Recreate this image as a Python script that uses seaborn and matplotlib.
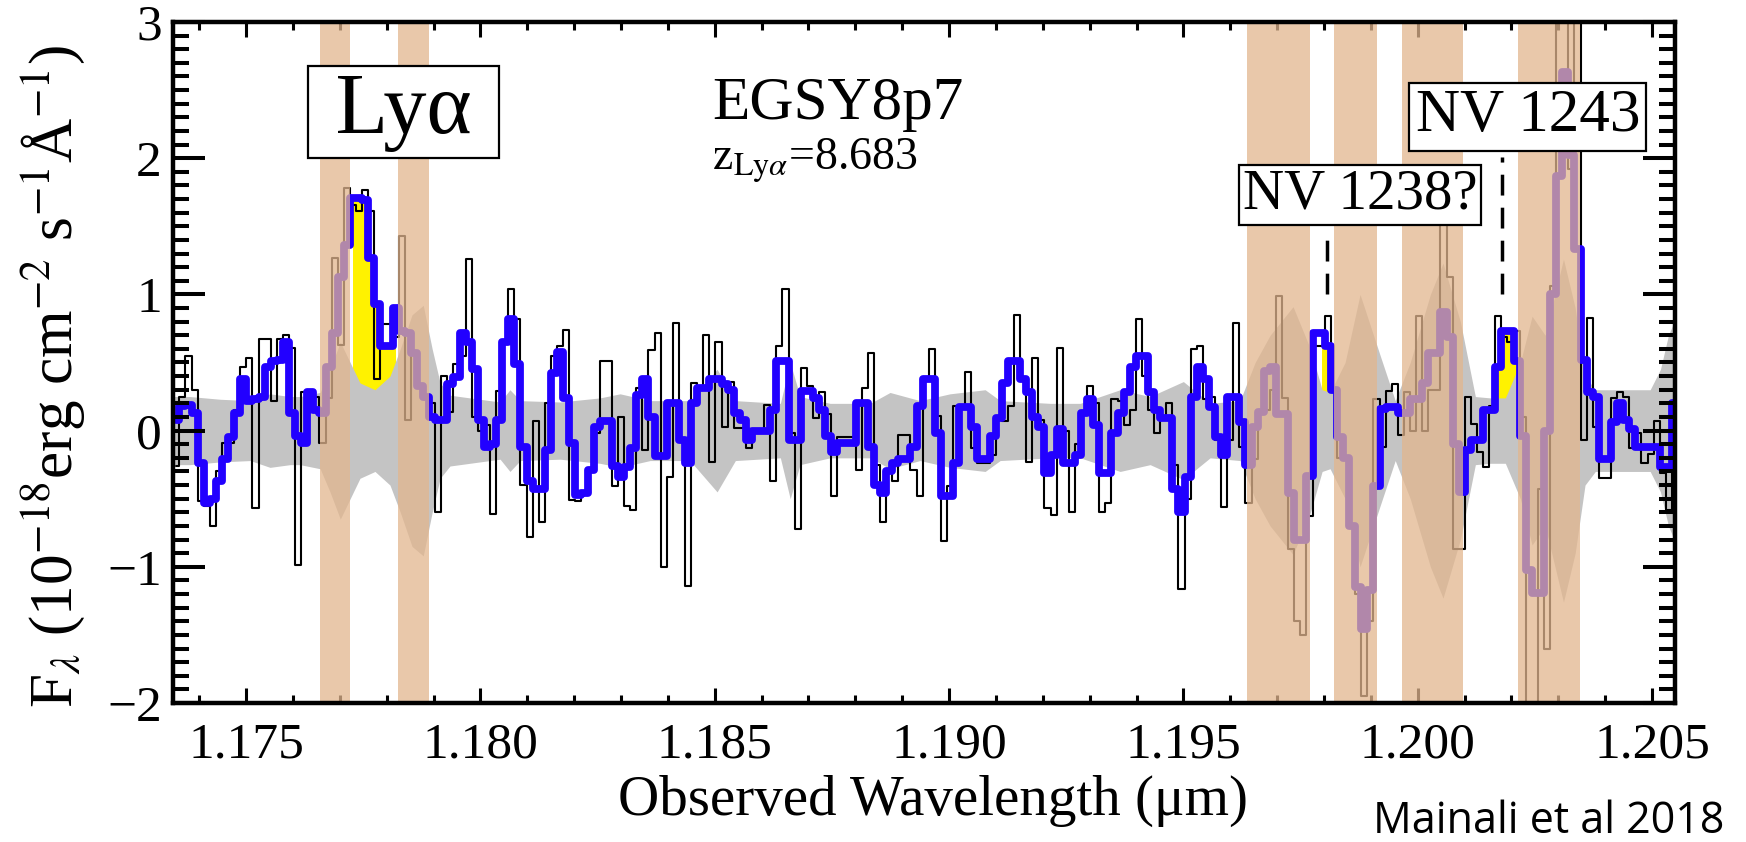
import numpy as np
import pandas as pd
import matplotlib
matplotlib.use("Agg")
import matplotlib.pyplot as plt
import seaborn as sns
from matplotlib.ticker import MultipleLocator, FormatStrFormatter, FuncFormatter

# ---------------- data ----------------
wave_start = 1.17351      # first pixel centre (micron)
wave_step = 0.00013       # MOSFIRE pixel width (micron)

flux_smooth = [
    0.08, 0.18, 0.19, 0.13, -0.24, -0.53, -0.50, -0.37, -0.21, -0.05,
    0.13, 0.38, 0.22, 0.23, 0.25, 0.47, 0.51, 0.52, 0.65, 0.13,
    -0.04, -0.09, 0.28, 0.15, 0.13, 0.47, 0.72, 1.13, 1.36, 1.71,
    1.71, 1.69, 1.27, 0.93, 0.62, 0.62, 0.90, 0.73, 0.72, 0.57,
    0.33, 0.25, 0.10, 0.08, 0.08, 0.34, 0.39, 0.72, 0.65, 0.45,
    0.08, -0.12, -0.10, 0.08, 0.65, 0.82, 0.49, -0.12, -0.37, -0.43,
    -0.43, -0.14, 0.42, 0.58, 0.24, -0.09, -0.47, -0.46, -0.29, 0.03,
    0.07, 0.07, -0.26, -0.34, -0.27, -0.13, 0.26, 0.38, 0.10, -0.19,
    -0.19, 0.20, 0.20, -0.07, -0.24, 0.20, 0.31, 0.31, 0.38, 0.38,
    0.34, 0.30, 0.13, 0.08, -0.07, 0.00, 0.00, 0.00, 0.15, 0.51,
    0.51, -0.07, -0.07, 0.29, 0.29, 0.24, 0.15, -0.04, -0.16, -0.09,
    -0.09, -0.09, 0.20, 0.20, -0.12, -0.40, -0.46, -0.30, -0.24, -0.21,
    -0.21, -0.12, 0.18, 0.38, 0.38, -0.02, -0.48, -0.48, -0.24, 0.17,
    0.17, 0.03, -0.21, -0.21, -0.04, 0.09, 0.35, 0.51, 0.51, 0.38,
    0.28, 0.10, 0.03, -0.31, -0.18, 0.01, -0.24, -0.24, -0.18, 0.13,
    0.23, 0.04, -0.31, -0.31, -0.02, 0.13, 0.28, 0.47, 0.55, 0.55,
    0.28, 0.15, 0.09, 0.09, -0.43, -0.60, -0.34, 0.25, 0.47, 0.38,
    0.17, -0.05, -0.18, 0.25, 0.25, 0.06, -0.25, 0.03, 0.14, 0.44,
    0.47, 0.12, 0.12, -0.46, -0.80, -0.80, -0.33, 0.72, 0.72, 0.62,
    0.30, -0.05, -0.20, -0.70, -1.15, -1.46, -1.17, -0.41, 0.16, 0.17,
    0.17, 0.13, 0.13, 0.23, 0.23, 0.35, 0.57, 0.57, 0.87, 0.69,
    -0.10, -0.45, -0.14, -0.07, -0.07, 0.15, 0.15, 0.47, 0.73, 0.73,
    0.51, -0.04, -1.02, -1.19, -1.19, 0.00, 1.00, 1.87, 2.63, 2.02,
    1.33, 0.52, 0.28, 0.25, -0.21, -0.21, 0.06, 0.20, 0.08, 0.01,
    -0.12, -0.12, -0.12, -0.12, -0.27, -0.27, 0.20,
]

flux_raw = [
    -0.26, 0.25, 0.55, 0.30, -0.52, -0.55, -0.70, -0.30, -0.09, -0.09,
    0.15, 0.47, 0.53, -0.57, 0.67, 0.67, 0.22, 0.67, 0.70, 0.61,
    -0.99, 0.28, 0.25, 0.25, -0.09, 0.24, 1.27, 0.63, 1.78, 1.66,
    1.61, 1.77, 1.61, 0.38, 0.78, 0.78, 0.69, 1.43, 0.08, 0.57,
    0.33, 0.23, 0.20, -0.60, 0.40, 0.14, 0.49, 0.55, 1.26, 0.10,
    0.00, 0.04, -0.61, 0.29, 0.66, 1.04, 0.82, -0.40, -0.78, 0.07,
    -0.67, 0.20, 0.55, 0.62, 0.74, -0.51, -0.52, -0.45, -0.30, -0.02,
    0.51, 0.51, -0.41, 0.10, -0.55, -0.58, 0.31, -0.14, 0.59, 0.72,
    -1.00, -0.34, 0.79, -0.07, -1.14, 0.35, 0.30, 0.70, -0.23, 0.65,
    0.03, 0.36, 0.02, 0.02, -0.13, -0.02, -0.02, 0.19, -0.37, 0.62,
    1.04, -0.02, -0.72, 0.46, 0.33, 0.09, 0.28, 0.12, -0.48, -0.05,
    -0.05, -0.05, -0.29, 0.31, 0.57, -0.25, -0.67, -0.30, -0.37, -0.03,
    -0.03, -0.29, -0.48, 0.39, 0.60, 0.11, -0.81, -0.41, 0.18, 0.18,
    0.43, -0.13, -0.24, -0.24, -0.18, 0.09, 0.07, 0.18, 0.85, 0.38,
    -0.23, 0.53, 0.08, -0.57, -0.62, 0.61, 0.00, -0.60, -0.10, 0.12,
    0.33, 0.20, -0.60, -0.53, 0.23, 0.22, 0.04, 0.15, 0.82, 0.40,
    0.15, -0.02, 0.11, 0.20, -0.25, -1.16, -0.50, 0.60, 0.62, 0.23,
    0.25, -0.07, -0.56, -0.07, 0.79, -0.12, -0.53, -0.21, 0.15, 0.15,
    0.30, 0.99, 0.24, -0.87, -1.40, -1.50, -0.63, 0.62, 0.62, 0.84,
    0.28, -0.20, -0.20, -0.70, -1.20, -1.95, -1.40, 0.23, -0.12, 0.29,
    0.34, -0.03, 0.28, 0.00, 0.84, 0.00, 0.30, 0.30, 1.53, 1.13,
    -0.87, -0.87, 0.25, 0.05, -0.16, -0.27, 0.18, 0.84, 0.69, 0.65,
    0.73, 0.10, -2.30, -2.30, -0.43, -1.60, 1.06, 3.20, 3.20, 1.92,
    3.10, -0.07, 0.83, 0.03, -0.35, -0.35, 0.24, 0.28, 0.25, -0.13,
    -0.02, -0.24, -0.17, 0.07, -0.31, -0.58, 0.20,
]

sigma_wave = [
    1.17344, 1.17380, 1.17445, 1.17509, 1.17551, 1.17594, 1.17615, 1.17658,
    1.17679, 1.17701, 1.17722, 1.17743, 1.17775, 1.17807, 1.17829, 1.17854,
    1.17878, 1.17897, 1.17914, 1.17935, 1.17999, 1.18042, 1.18063, 1.18085,
    1.18170, 1.18255, 1.18298, 1.18362, 1.18447, 1.18505, 1.18544, 1.18640,
    1.18661, 1.18682, 1.18746, 1.18832, 1.18874, 1.18938, 1.19002, 1.19077,
    1.19109, 1.19216, 1.19280, 1.19365, 1.19429, 1.19500, 1.19557, 1.19621,
    1.19653, 1.19685, 1.19734, 1.19771, 1.19796, 1.19813, 1.19845, 1.19877,
    1.19920, 1.19952, 1.19984, 1.20027, 1.20054, 1.20091, 1.20123, 1.20155,
    1.20187, 1.20219, 1.20244, 1.20272, 1.20311, 1.20336, 1.20357, 1.20379,
    1.20496, 1.20518, 1.20535, 1.20552,
]
sigma_flux = [
    0.25, 0.25, 0.23, 0.22, 0.27, 0.25, 0.25, 0.28,
    0.45, 0.65, 0.50, 0.35, 0.30, 0.40, 0.60, 0.85,
    0.92, 0.60, 0.35, 0.26, 0.23, 0.21, 0.30, 0.22,
    0.21, 0.24, 0.27, 0.22, 0.22, 0.45, 0.22, 0.20,
    0.50, 0.25, 0.20, 0.20, 0.28, 0.22, 0.27, 0.30,
    0.22, 0.20, 0.20, 0.30, 0.25, 0.36, 0.20, 0.22,
    0.50, 0.70, 0.91, 0.60, 0.30, 0.28, 0.50, 1.00,
    0.55, 0.22, 0.50, 1.00, 1.23, 0.80, 0.25, 0.24,
    0.24, 0.50, 0.84, 0.70, 1.26, 0.90, 0.40, 0.30,
    0.30, 0.45, 0.70, 0.84,
]

sky_lo = [1.17658, 1.17824, 1.19636, 1.197015, 1.19822, 1.19967, 1.200315, 1.20214, 1.202785]
sky_hi = [1.17722, 1.17891, 1.19701, 1.19771, 1.19914, 1.20031, 1.20097, 1.20278, 1.20347]

line_windows = [(1.17722, 1.17824), (1.19790, 1.19812), (1.20165, 1.20215)]

line_labels = ["NV 1238?", "NV 1243"]
line_wave = [1.19807, 1.20180]
line_tick_bottom = [1.00, 1.00]
line_tick_top = [1.46, 2.01]

# ---------------- style ----------------
sns.set_theme(style="ticks")
plt.rcParams["font.family"] = ["Liberation Serif", "DejaVu Serif"]
plt.rcParams["mathtext.fontset"] = "stix"
plt.rcParams["axes.unicode_minus"] = True
for key in ["text.color", "axes.labelcolor", "xtick.color", "ytick.color",
            "axes.edgecolor"]:
    plt.rcParams[key] = "black"

wave = wave_start + wave_step * np.arange(len(flux_smooth))
smooth = np.asarray(flux_smooth)
df = pd.DataFrame({"wave": wave, "smooth": flux_smooth, "raw": flux_raw})

fig = plt.figure(figsize=(17.46, 8.42), dpi=100)
ax = fig.add_axes([173 / 1746, 139 / 842, 1502 / 1746, 681 / 842])

# yellow line flux (only the part above the noise band stays visible)
for lo, hi in line_windows:
    m = (wave >= lo) & (wave <= hi)
    ax.fill_between(wave[m], 0, smooth[m], step="mid", color="#fff200",
                    lw=0, zorder=1)

# 1-sigma noise band
sig = np.asarray(sigma_flux)
ax.fill_between(sigma_wave, -sig, sig, color="#c4c4c4", lw=0, zorder=2)

# raw and smoothed spectra
sns.lineplot(data=df, x="wave", y="raw", ax=ax, color="black", linewidth=1.5,
             drawstyle="steps-mid", estimator=None, sort=False, legend=False,
             zorder=3)
sns.lineplot(data=df, x="wave", y="smooth", ax=ax, color="#2200ff",
             linewidth=5.6, drawstyle="steps-mid", estimator=None, sort=False,
             legend=False, zorder=4)

# sky-line masks
for lo, hi in zip(sky_lo, sky_hi):
    ax.axvspan(lo, hi, color="#e2b68e", alpha=0.75, lw=0, zorder=5)

# NV markers
for w, b, t in zip(line_wave, line_tick_bottom, line_tick_top):
    ax.plot([w, w], [b, t], color="black", lw=2.5, ls=(0, (6, 3.5)), zorder=6)

ax.text(1.17835, 2.34, " Lyα ", fontsize=62, ha="center", va="center",
        bbox=dict(boxstyle="square,pad=0.07", fc="white", ec="black", lw=1.6),
        zorder=7)
ax.text(1.19877, 1.732, line_labels[0], fontsize=41, ha="center", va="center",
        bbox=dict(boxstyle="square,pad=0.07", fc="white", ec="black", lw=1.6),
        zorder=7)
ax.text(1.20235, 2.305, line_labels[1], fontsize=44, ha="center", va="center",
        bbox=dict(boxstyle="square,pad=0.1", fc="white", ec="black", lw=1.6),
        zorder=7)
ax.text(1.18494, 2.287, "EGSY8p7", fontsize=44, ha="left", va="baseline", zorder=7)
ax.text(1.18494, 1.919, r"z$_{\mathrm{Ly}\alpha}$=8.683", fontsize=33,
        ha="left", va="baseline", zorder=7)

# axes
ax.set_xlim(1.17344, 1.20549)
ax.set_ylim(-2.0, 3.0)
ax.xaxis.set_major_locator(MultipleLocator(0.005))
ax.xaxis.set_minor_locator(MultipleLocator(0.001))
ax.yaxis.set_major_locator(MultipleLocator(1))
ax.yaxis.set_minor_locator(MultipleLocator(0.1))
ax.xaxis.set_major_formatter(FormatStrFormatter("%.3f"))
ax.yaxis.set_major_formatter(FuncFormatter(lambda v, p: f"{int(round(v))}".replace("-", "\u2212")))

ax.tick_params(axis="x", which="major", direction="in", length=11, width=2.2,
               top=True, bottom=True, labelsize=37, pad=14, color="black")
ax.tick_params(axis="x", which="minor", direction="in", length=6, width=2.2,
               top=True, bottom=True, color="black")
ax.tick_params(axis="y", which="major", direction="in", length=23, width=2.9,
               left=True, right=True, labelsize=37, pad=8, color="black")
ax.tick_params(axis="y", which="minor", direction="in", length=11.5, width=2.9,
               left=True, right=True, color="black")
ax.xaxis.set_zorder(4.5)
ax.yaxis.set_zorder(4.5)
for s in ax.spines.values():
    s.set_linewidth(3.2)
    s.set_color("black")
    s.set_zorder(10)

ax.set_xlabel("Observed Wavelength (μm)", fontsize=41)
ax.xaxis.set_label_coords(0.506, -0.106)
ax.set_ylabel(r"F$_\lambda$ (10$^{-18}$erg cm$^{-2}$ s$^{-1}$Å$^{-1}$)", fontsize=44)
ax.yaxis.set_label_coords(-0.057, 0.48)

fig.text(1724 / 1746, 9 / 842, "Mainali et al 2018", fontsize=31,
         family=["Open Sans", "DejaVu Sans"], ha="right", va="baseline")

fig.savefig("out.png", dpi=100)
